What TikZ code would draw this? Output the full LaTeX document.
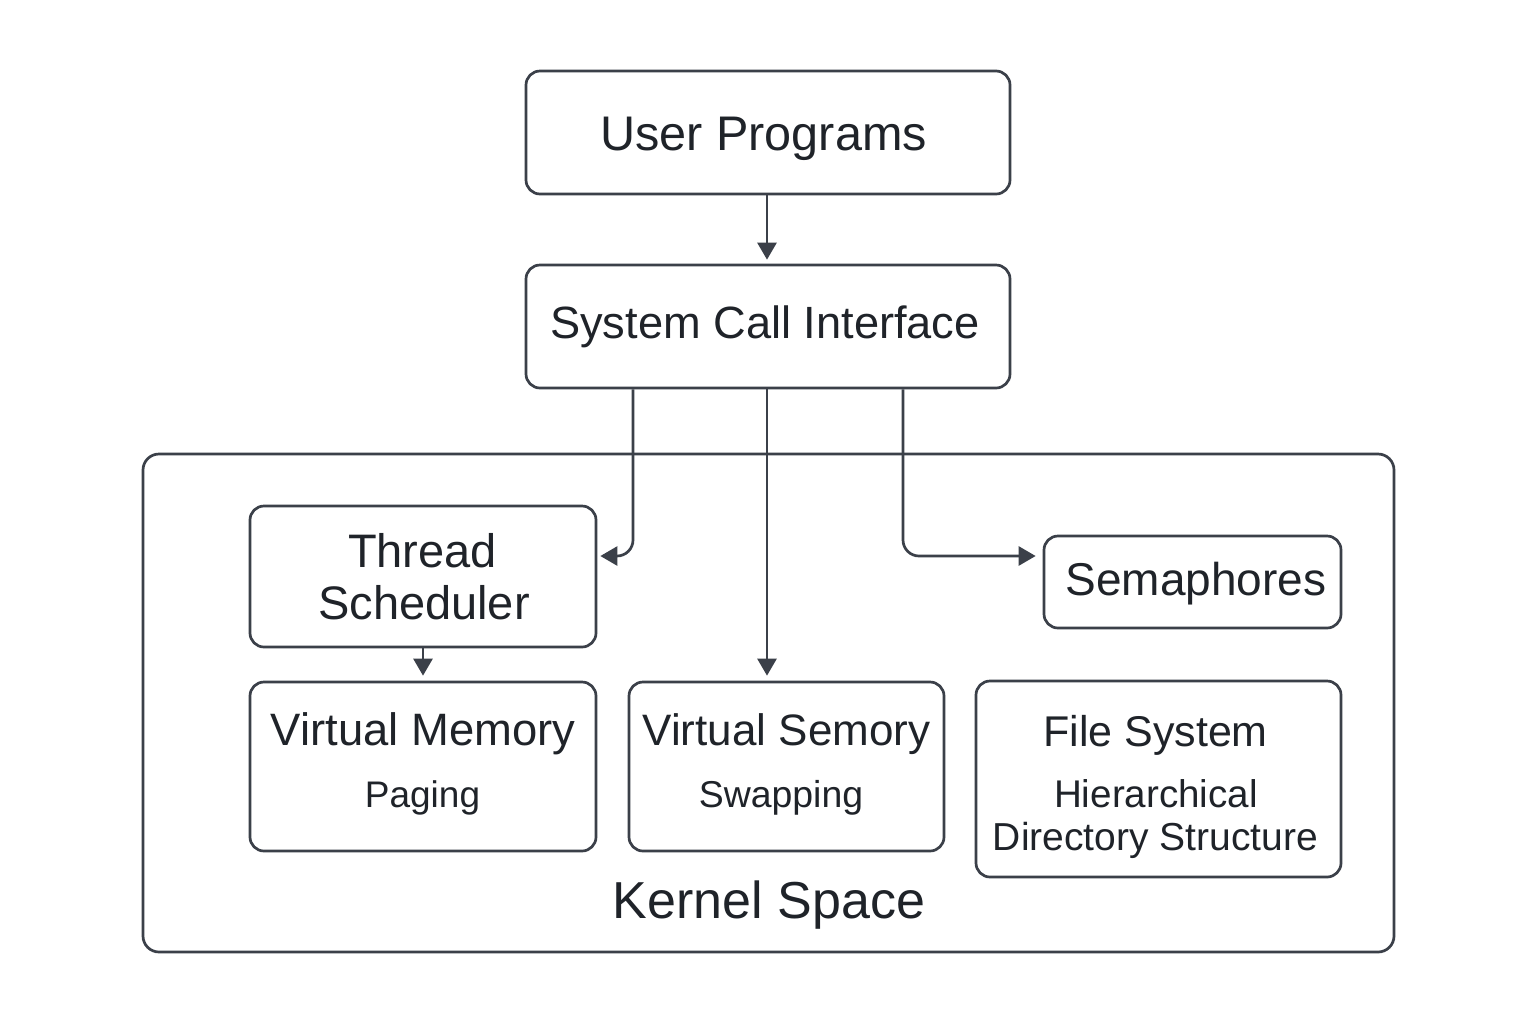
\documentclass[tikz,border=0pt]{standalone}
\usepackage{fontspec}
\setmainfont{Liberation Sans}
\usetikzlibrary{arrows.meta,calc}
\definecolor{linec}{HTML}{3B4049}
\definecolor{textc}{HTML}{1F2329}
\tikzset{
  box/.style={draw=linec, line width=1.35pt, rounded corners=7pt, fill=white, inner sep=0pt},
  kbox/.style={draw=linec, line width=1.35pt, rounded corners=8pt, inner sep=0pt},
  arr/.style={draw=linec, line width=1.35pt, -{Triangle[length=8.5pt,width=9.5pt]}},
  lbl/.style={text=textc, anchor=base, inner sep=0pt},
}
\newcommand{\fsz}[1]{\fontsize{#1}{#1}\selectfont}
\begin{document}
\begin{tikzpicture}[x=0.5pt,y=-0.5pt]
\useasboundingbox[fill=white] (0,0) rectangle (1536,1024);
% boxes
\node[kbox, minimum width=625.5pt, minimum height=249pt] (kern) at (768.5,703) {};
\node[box, minimum width=242pt, minimum height=61.5pt] (up) at (768,132.5) {};
\node[box, minimum width=242pt, minimum height=61.5pt] (sci) at (768,326.5) {};
\node[box, minimum width=173pt, minimum height=70.5pt] (ts) at (423,576.5) {};
\node[box, minimum width=148.5pt, minimum height=46pt] (sem) at (1192.5,582) {};
\node[box, minimum width=173pt, minimum height=84.5pt] (vm) at (423,766.5) {};
\node[box, minimum width=157.5pt, minimum height=84.5pt] (vs) at (786.5,766.5) {};
\node[box, minimum width=182.5pt, minimum height=98pt] (fs) at (1158.5,779) {};
% labels
\node[lbl] (tup) at (763.5,150) {\fsz{24.3}User Programs};
\node[lbl] (tsci) at (765,338) {\fsz{22.6}System Call Interface};
\node[lbl] (tts1) at (422.5,567) {\fsz{23.5}Thread};
\node[lbl] (tts2) at (424,619) {\fsz{23.5}Scheduler};
\node[lbl] (tsem) at (1196,595) {\fsz{23}Semaphores};
\node[lbl] (tvm1) at (423,745) {\fsz{22.7}Virtual Memory};
\node[lbl] (tvm2) at (422.5,807) {\fsz{18.5}Paging};
\node[lbl] (tvs1) at (786.5,745) {\fsz{22}Virtual Semory};
\node[lbl] (tvs2) at (781,807) {\fsz{18.7}Swapping};
\node[lbl] (tfs1) at (1155.5,746) {\fsz{21.5}File System};
\node[lbl] (tfs2) at (1156,807) {\fsz{19.3}Hierarchical};
\node[lbl] (tfs3) at (1155.5,850) {\fsz{19.5}Directory Structure};
\node[lbl] (tkern) at (769,918) {\fsz{26}Kernel Space};
% connectors
\coordinate (xl) at (633,0);
\coordinate (xr) at (903,0);
\draw[arr] ([xshift=-0.5pt]up.south) -- ($(sci.north)+(-1,-4)$);
\draw[arr, rounded corners=8pt] (sci.south -| xl) |- ($(ts.east)+(3,-20.5)$);
\draw[arr, rounded corners=8pt] (sci.south -| xr) |- ($(sem.west)+(-7,-26)$);
\draw[arr] ([xshift=-0.5pt]sci.south) -- ($(vs.north -| sci.south)+(-1,-5)$);
\draw[arr] (ts.south) -- ($(vm.north)+(0,-5)$);
\end{tikzpicture}
\end{document}
